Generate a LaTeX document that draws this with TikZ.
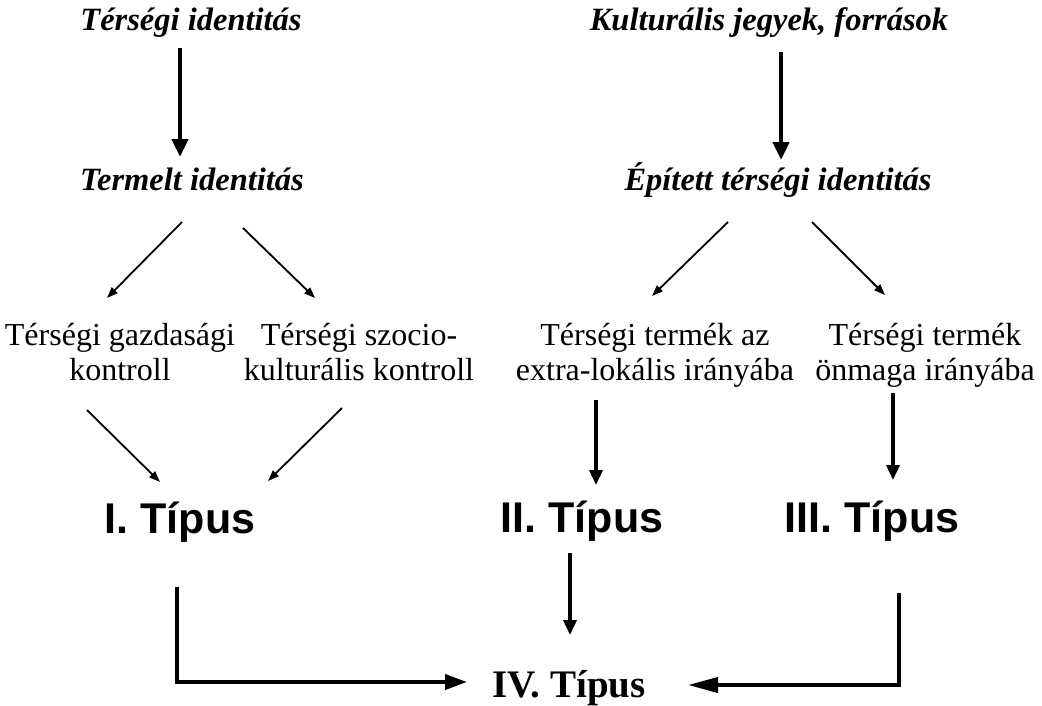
\documentclass[tikz,border=0pt]{standalone}
\usepackage{fontspec}
\setmainfont{Liberation Serif}
\newfontfamily\arialfont{Liberation Sans}
\usetikzlibrary{arrows.meta}
\tikzset{
  hdr/.style={font=\fontsize{32.5}{38}\selectfont\bfseries\itshape, inner sep=0pt, anchor=base},
  lbl/.style={font=\fontsize{32}{35}\selectfont, inner sep=0pt, anchor=base, align=center},
  typ/.style={font=\fontsize{43}{48}\selectfont\arialfont\bfseries, inner sep=0pt, anchor=base},
  typfour/.style={font=\fontsize{39}{44}\selectfont\bfseries, inner sep=0pt, anchor=base},
  bigarr/.style={line width=4.5pt, -{Triangle[length=18pt,width=16pt]}},
  medarr/.style={line width=3.5pt, -{Triangle[length=15pt,width=13pt]}},
  thinarr/.style={line width=1.8pt, -{Triangle[length=11pt,width=8pt]}},
  larrL/.style={line width=4pt, -{Triangle[length=22pt,width=15pt]}},
  larrR/.style={line width=4pt, -{Triangle[length=30pt,width=15pt]}},
}
\begin{document}
\begin{tikzpicture}[x=1pt,y=1pt]
\useasboundingbox (0,0) rectangle (1042,-705);
% nodes
\node[hdr] (t1) at (191,-30) {Térségi identitás};
\node[hdr] (t2) at (192,-190) {Termelt identitás};
\node[hdr] (k1) at (769,-30) {Kulturális jegyek, források};
\node[hdr] (k2) at (778,-190) {Épített térségi identitás};
\node[lbl] (g1) at (120,-380) {Térségi gazdasági\\kontroll};
\node[lbl] (g2) at (359,-380) {Térségi szocio-\\kulturális kontroll};
\node[lbl] (p1) at (655,-380) {Térségi termék az\\extra-lokális irányába};
\node[lbl] (p2) at (925,-380) {Térségi termék\\önmaga irányába};
\node[typ] (ty1) at (180,-533) {I. Típus};
\node[typ] (ty2) at (582,-532) {II. Típus};
\node[typ] (ty3) at (872,-532) {III. Típus};
\node[typfour] (ty4) at (569,-697) {IV. Típus};
% connectors
\draw[bigarr] ([shift={(-11pt,-18pt)}]t1.base) -- ([shift={(-12pt,33pt)}]t2.base);
\draw[bigarr] ([shift={(12pt,-22pt)}]k1.base) -- ([shift={(3pt,30pt)}]k2.base);
\draw[thinarr] ([shift={(-10pt,-32pt)}]t2.base) -- ([shift={(-13pt,82pt)}]g1.base);
\draw[thinarr] ([shift={(51pt,-38pt)}]t2.base) -- ([shift={(-44pt,82pt)}]g2.base);
\draw[thinarr] ([shift={(-50pt,-32pt)}]k2.base) -- ([shift={(-3pt,84pt)}]p1.base);
\draw[thinarr] ([shift={(34pt,-32pt)}]k2.base) -- ([shift={(-40pt,85pt)}]p2.base);
\draw[thinarr] ([shift={(-33pt,-30pt)}]g1.base) -- ([shift={(-20pt,51pt)}]ty1.base);
\draw[thinarr] ([shift={(-17pt,-28pt)}]g2.base) -- ([shift={(88pt,52pt)}]ty1.base);
\draw[medarr] ([shift={(-59pt,-20pt)}]p1.base) -- ([shift={(14pt,47pt)}]ty2.base);
\draw[medarr] ([shift={(-32pt,-13pt)}]p2.base) -- ([shift={(21pt,52pt)}]ty3.base);
\draw[medarr] ([shift={(-12pt,-21pt)}]ty2.base) -- ([shift={(1pt,62pt)}]ty4.base);
\draw[larrL] ([shift={(-3pt,-54pt)}]ty1.base) |- ([shift={(-102pt,15pt)}]ty4.base);
\draw[larrR] ([shift={(27pt,-61pt)}]ty3.base) |- ([shift={(119pt,12pt)}]ty4.base);
\end{tikzpicture}
\end{document}
